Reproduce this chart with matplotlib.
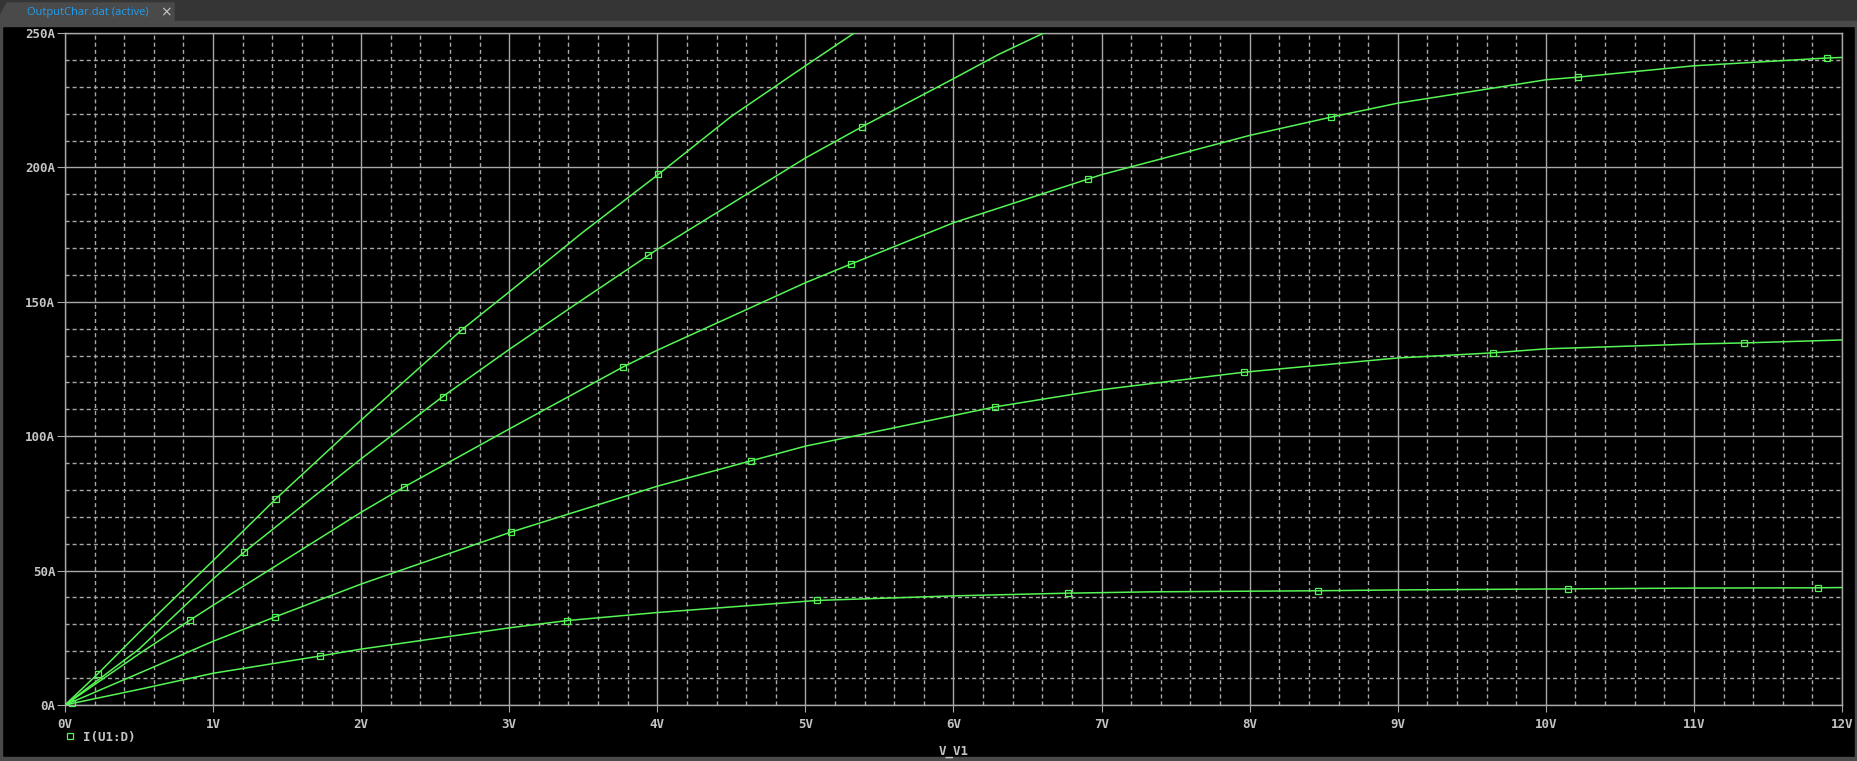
import matplotlib
matplotlib.use("Agg")
import matplotlib.pyplot as plt
from matplotlib.patches import Rectangle, Polygon
from matplotlib.lines import Line2D
from matplotlib.ticker import MultipleLocator, FixedLocator
import numpy as np

plt.rcParams['lines.scale_dashes'] = False

W, H = 1857, 761

# ---- data ----
v1 = [0.0, 0.22, 0.5, 1.0, 1.426, 2.0, 2.68, 3.0, 3.5, 4.007, 4.5, 5.0, 5.33]
i1 = [0.0, 11.5, 27.0, 53.7, 76.8, 106.0, 139.6, 153.7, 176.0, 197.4, 219.0, 237.8, 250.0]
m1 = [1, 4, 6, 9]

v2 = [0.0, 0.5, 1.0, 1.21, 2.0, 2.55, 3.0, 3.5, 3.94, 4.0, 5.0, 5.385, 6.0, 6.3, 6.61]
i2 = [0.0, 20.8, 46.9, 56.9, 91.6, 114.7, 132.3, 151.0, 167.3, 169.5, 203.5, 215.2, 233.0, 241.9, 250.0]
m2 = [3, 5, 8, 11]

v3 = [0.0, 0.5, 0.845, 1.0, 2.0, 2.29, 3.0, 3.77, 4.0, 5.0, 5.31, 6.0, 6.905, 7.0, 8.0, 8.55,
      9.0, 10.0, 10.22, 11.0, 11.9, 12.0]
i3 = [0.0, 19.0, 31.6, 37.1, 71.7, 81.1, 102.7, 125.8, 132.0, 157.1, 164.1, 179.4, 195.6, 197.3,
      211.9, 218.7, 223.9, 232.6, 233.6, 237.8, 240.7, 240.9]
m3 = [2, 5, 7, 10, 12, 15, 18, 20]

v4 = [0.0, 0.5, 1.0, 1.42, 2.0, 3.01, 4.0, 4.63, 5.0, 6.0, 6.28, 7.0, 7.96, 9.0, 9.64, 10.0,
      11.0, 11.34, 12.0]
i4 = [0.0, 11.8, 23.7, 32.8, 45.0, 64.3, 81.4, 90.8, 96.3, 107.7, 110.9, 117.3, 123.8, 129.1,
      131.0, 132.5, 134.3, 134.7, 135.8]
m4 = [3, 5, 7, 10, 12, 14, 17]

v5 = [0.0, 0.05, 0.5, 1.0, 1.72, 2.0, 3.0, 3.39, 4.0, 5.08, 6.0, 6.77, 7.33, 8.46, 9.0, 10.15,
      11.0, 11.84, 12.0]
i5 = [0.0, 0.6, 5.8, 11.8, 18.2, 20.8, 28.7, 31.4, 34.4, 38.9, 40.6, 41.6, 42.1, 42.5, 42.8,
      43.2, 43.5, 43.6, 43.7]
m5 = [1, 4, 7, 9, 11, 13, 15, 17]

curves = [(v1, i1, m1), (v2, i2, m2), (v3, i3, m3), (v4, i4, m4), (v5, i5, m5)]

x_ticks = list(range(0, 13))
x_labels = [f"{v}V" for v in x_ticks]
y_ticks = [0, 50, 100, 150, 200, 250]
y_labels = [f"{v}A" for v in y_ticks]
legend_label = "I(U1:D)"
x_title = "V_V1"
tab_title = "OutputChar.dat (active)"

GREEN = '#55f555'
GRID = '#a8a8a8'
TXT = '#c4c4c4'

fig = plt.figure(figsize=(W / 100, H / 100), dpi=100)
fig.patch.set_facecolor('black')

def fx(px):
    return px / W

def fy(py):
    return 1 - py / H

# window chrome
fig.add_artist(Rectangle((0, fy(21)), 1, 21 / H, transform=fig.transFigure,
                         color='#353535', zorder=0))
fig.add_artist(Rectangle((0, fy(26)), 1, 5 / H, transform=fig.transFigure,
                         color='#4a4a4a', zorder=0))
fig.add_artist(Polygon([(fx(0), fy(21)), (fx(0), fy(16)), (fx(7), fy(3)), (fx(174), fy(3)),
                        (fx(174), fy(21))], closed=True, transform=fig.transFigure,
                       color='#4a4a4a', zorder=0))
fig.add_artist(Rectangle((0, 0), 1, 4 / H, transform=fig.transFigure,
                         color='#4a4a4a', zorder=0))
fig.add_artist(Rectangle((0, 0), 2 / W, fy(26), transform=fig.transFigure,
                         color='#4a4a4a', zorder=0))
fig.add_artist(Rectangle((1 - 2 / W, 0), 2 / W, fy(26), transform=fig.transFigure,
                         color='#4a4a4a', zorder=0))
fig.text(fx(27), fy(12), tab_title, color='#1f9ff0', fontsize=8, family='Open Sans',
         ha='left', va='center')
fig.text(fx(166), fy(12), "×", color='#c8c8c8', fontsize=10, family='DejaVu Sans',
         ha='center', va='center')

ax = fig.add_axes([fx(65), fy(705), (1842 - 65) / W, (705 - 33) / H])
ax.set_facecolor('black')
ax.set_xlim(0, 12)
ax.set_ylim(0, 250)

ax.xaxis.set_major_locator(FixedLocator(x_ticks))
ax.yaxis.set_major_locator(FixedLocator(y_ticks))
ax.set_xticklabels(x_labels)
ax.set_yticklabels(y_labels)
ax.xaxis.set_minor_locator(MultipleLocator(0.2))
ax.yaxis.set_minor_locator(MultipleLocator(10))

ax.grid(which='major', color=GRID, lw=1.0, ls='-', zorder=1)
ax.grid(which='minor', color=GRID, lw=1.0, ls=(0, (2.9, 2.2)), zorder=1)
ax.set_axisbelow(True)
for s in ax.spines.values():
    s.set_color(GRID)
    s.set_linewidth(1.0)

ax.tick_params(axis='x', which='major', length=5, width=0.8, color=GRID, pad=4,
               labelcolor=TXT, labelsize=9)
ax.tick_params(axis='y', which='major', length=6, width=0.8, color=GRID, pad=1,
               labelcolor=TXT, labelsize=9)
ax.tick_params(which='minor', length=0)
for lab in ax.get_xticklabels() + ax.get_yticklabels():
    lab.set_family('DejaVu Sans Mono')
    lab.set_fontweight('bold')

for v, i, m in curves:
    ax.plot(v, i, color=GREEN, lw=1.1, zorder=3, clip_on=True)
    ax.plot([v[k] for k in m], [i[k] for k in m], ls='none', marker='s', ms=4.5,
            mfc='none', mec=GREEN, mew=0.9, zorder=4, clip_on=False)

handle = Line2D([], [], ls='none', marker='s', ms=4.5, mfc='none', mec=GREEN, mew=0.9)
leg = fig.legend([handle], [legend_label], loc='center left',
                 bbox_to_anchor=(fx(64), fy(737)), bbox_transform=fig.transFigure,
                 frameon=False, borderaxespad=0, borderpad=0, handlelength=1.0,
                 handletextpad=0.5, prop={'family': 'DejaVu Sans Mono', 'weight': 'bold',
                                          'size': 9})
for t in leg.get_texts():
    t.set_color(TXT)

fig.text(fx(953.5), fy(751), x_title, color=TXT, fontsize=9, family='DejaVu Sans Mono',
         fontweight='bold', ha='center', va='center')

fig.savefig('out.png', dpi=100, facecolor=fig.get_facecolor())
